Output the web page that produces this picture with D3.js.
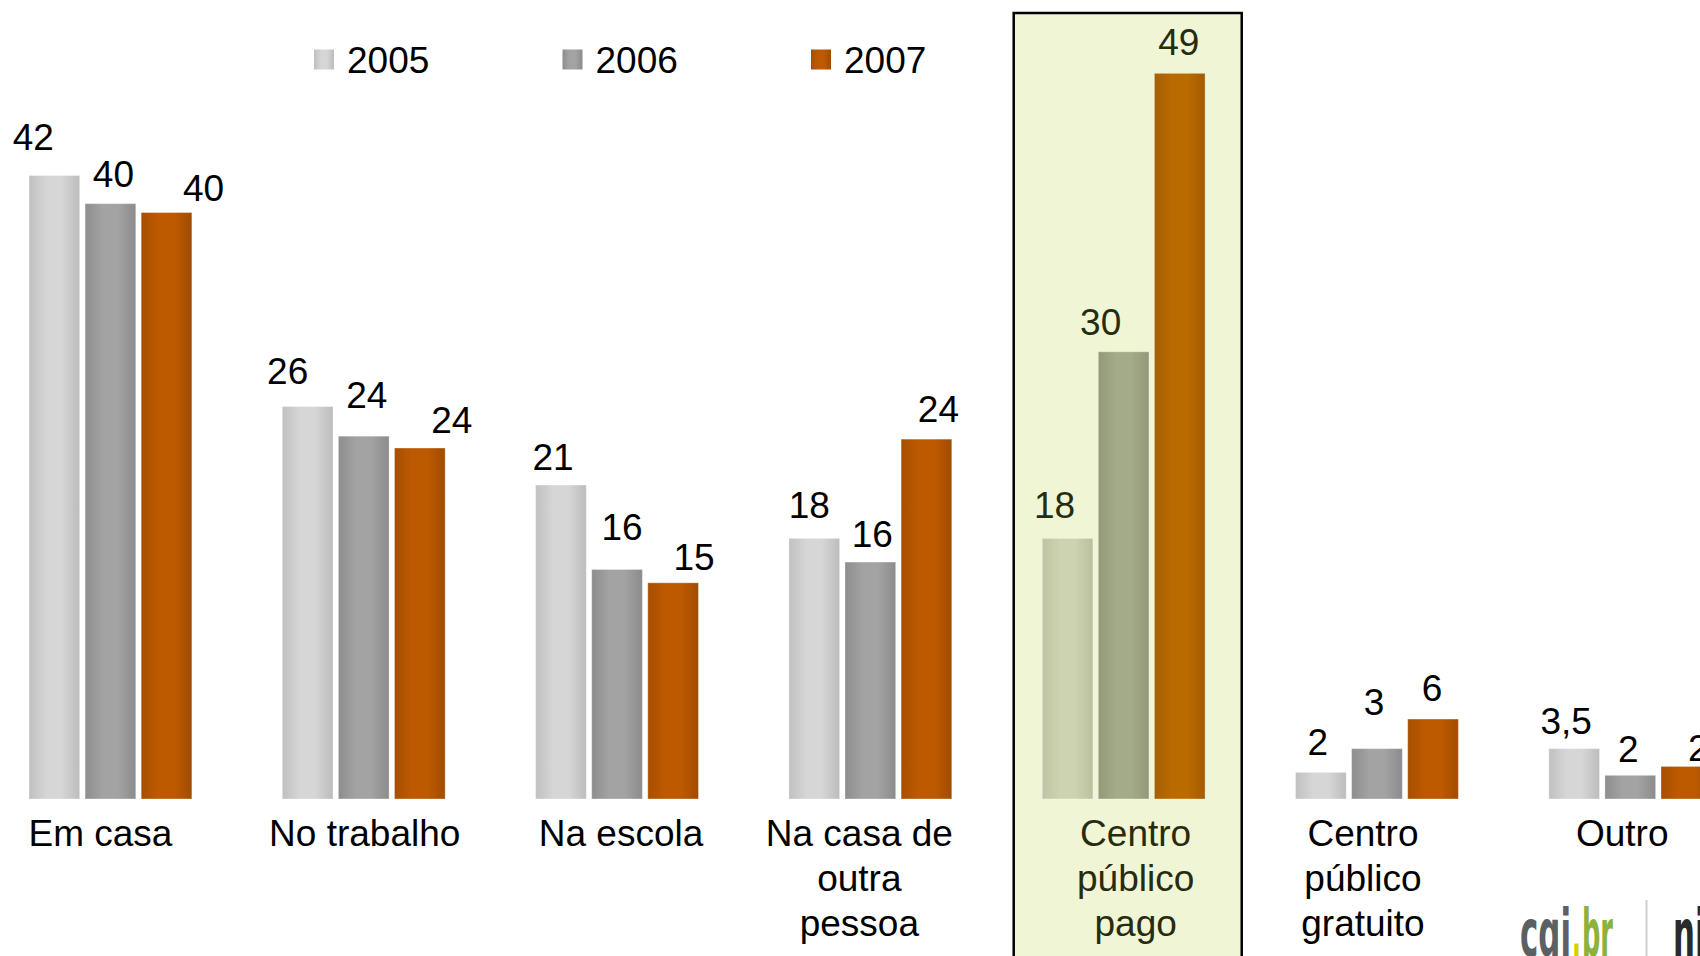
<!DOCTYPE html>
<html lang="pt">
<head>
  <meta charset="UTF-8">
  <title>Local de acesso</title>
  <style>
    html, body { margin: 0; padding: 0; background: #fff; overflow: hidden; }
    svg { display: block; font-family: "Liberation Sans", Arial, sans-serif; }
  </style>
</head>
<body>
  <div id="chart"></div>
  <script src="https://cdn.jsdelivr.net/npm/d3@7"></script>
  <script>
    const width = 1700
    const height = 956

    // data
    const categories = ['Em casa', 'No trabalho', 'Na escola', 'Na casa de\noutra\npessoa',
      'Centro\npúblico\npago', 'Centro\npúblico\ngratuito', 'Outro']
    const years = ['2005', '2006', '2007']
    const values2005 = [42.1, 26.5, 21.2, 17.6, 17.6, 1.8, 3.4]
    const values2006 = [40.2, 24.5, 15.5, 16.0, 30.2, 3.4, 1.6]
    const values2007 = [39.6, 23.7, 14.6, 24.3, 49.0, 5.4, 2.2]
    const labels2005 = ['42', '26', '21', '18', '18', '2', '3,5']
    const labels2006 = ['40', '24', '16', '16', '30', '3', '2']
    const labels2007 = ['40', '24', '15', '24', '49', '6', '2']
    const highlighted = 'Centro\npúblico\npago'

    // hand placed value labels (offset from bar centre, gap above bar top)
    const labelDx = [[-21, 3, 37], [-20, 3, 32], [-8, 5, 21], [-5, 2, 12],
      [-13, -23, -1], [-3, -3, -1], [-8, -2, 12]]
    const labelGap = [[25, 17, 12], [23, 28, 15], [15, 29, 13], [20, 15, 17],
      [20, 17, 18], [17, 34, 18], [15, 13, 5]]
    const catDx = [-10, 1, 4, -11, 12, -14, -8]

    const series = [values2005, values2006, values2007]
    const seriesLabels = [labels2005, labels2006, labels2007]

    const colors = {
      normal: [['#c0c0c0', '#d6d6d6', '#bcbcbc'], ['#8d8d8d', '#a3a3a3', '#8b8b8b'], ['#a74f00', '#bd5a00', '#a04c00']],
      hi: [['#bec5a2', '#cdd3b1', '#b9c09d'], ['#939977', '#a4ab89', '#92987a'], ['#a65f00', '#ba6b00', '#a25c00']]
    }

    const svg = d3.select('#chart').append('svg')
      .attr('width', width)
      .attr('height', height)

    const defs = svg.append('defs')
    Object.keys(colors).forEach(k => {
      colors[k].forEach((c, j) => {
        const gr = defs.append('linearGradient')
          .attr('id', `g-${k}-${j}`)
          .attr('x1', '0%').attr('x2', '100%')
        gr.append('stop').attr('offset', '0%').attr('stop-color', c[0])
        gr.append('stop').attr('offset', '35%').attr('stop-color', c[1])
        gr.append('stop').attr('offset', '65%').attr('stop-color', c[1])
        gr.append('stop').attr('offset', '100%').attr('stop-color', c[2])
      })
    })

    const x0 = d3.scaleBand()
      .domain(categories)
      .range([29, 1711.7])
      .paddingInner(0.357)
      .paddingOuter(0)

    const x1 = d3.scaleBand()
      .domain(years)
      .range([0, x0.bandwidth()])
      .paddingInner(0.096)

    const y = d3.scaleLinear()
      .domain([0, 50])
      .range([799, 799 - 50 * 14.81])

    // highlight box
    const hx = x0(highlighted)
    svg.append('rect')
      .attr('x', hx - 28.5)
      .attr('y', 13)
      .attr('width', 228)
      .attr('height', height)
      .attr('fill', '#f0f5d6')
      .attr('stroke', '#000')
      .attr('stroke-width', 2.5)

    // legend
    const legend = svg.append('g')
    years.forEach((yr, j) => {
      const lx = 314 + j * 248.5
      legend.append('rect')
        .attr('x', lx).attr('y', 49.5)
        .attr('width', 20).attr('height', 20)
        .attr('fill', `url(#g-normal-${j})`)
      legend.append('text')
        .attr('x', lx + 33).attr('y', 73)
        .attr('font-size', 37)
        .attr('fill', '#000')
        .text(yr)
    })

    // bars
    const groups = svg.selectAll('g.cat')
      .data(categories)
      .join('g')
      .attr('class', 'cat')
      .attr('transform', d => `translate(${x0(d)},0)`)

    groups.each(function (cat, i) {
      const g = d3.select(this)
      const hi = cat === highlighted
      const txt = hi ? '#262c10' : '#000'
      years.forEach((yr, j) => {
        const v = series[j][i]
        g.append('rect')
          .attr('x', x1(yr))
          .attr('y', y(v))
          .attr('width', x1.bandwidth())
          .attr('height', y(0) - y(v))
          .attr('fill', `url(#g-${hi ? 'hi' : 'normal'}-${j})`)
          .attr('stroke', '#fff')
          .attr('stroke-opacity', 0.35)
          .attr('stroke-width', 1)

        g.append('text')
          .attr('x', x1(yr) + x1.bandwidth() / 2 + labelDx[i][j])
          .attr('y', y(v) - labelGap[i][j])
          .attr('text-anchor', 'middle')
          .attr('font-size', 37)
          .attr('fill', txt)
          .text(seriesLabels[j][i])
      })

      const lines = cat.split('\n')
      const t = g.append('text')
        .attr('text-anchor', 'middle')
        .attr('font-size', 37)
        .attr('fill', txt)
      lines.forEach((ln, k) => {
        t.append('tspan')
          .attr('x', x0.bandwidth() / 2 + catDx[i])
          .attr('y', 846 + k * 45)
          .text(ln)
      })
    })

    // logo, bottom right (each piece its own condensed text)
    const logo = svg.append('g')
      .attr('font-family', '"DejaVu Sans", sans-serif')
      .attr('font-weight', 'bold')
      .attr('font-size', 66)
    const logoParts = [
      { t: 'cgi', x: 1520, w: 51, c: '#5b6062' },
      { t: '.', x: 1572, w: 9, c: '#cfd400' },
      { t: 'br', x: 1582, w: 31, c: '#8cb23c' }
    ]
    logoParts.forEach(p => {
      logo.append('text')
        .attr('x', p.x).attr('y', 956)
        .attr('textLength', p.w)
        .attr('lengthAdjust', 'spacingAndGlyphs')
        .attr('fill', p.c)
        .text(p.t)
    })

    logo.append('line')
      .attr('x1', 1646.5).attr('x2', 1646.5)
      .attr('y1', 900).attr('y2', 956)
      .attr('stroke', '#d0d0d0')
      .attr('stroke-width', 2)

    logo.append('text')
      .attr('x', 1673).attr('y', 956)
      .attr('textLength', 100)
      .attr('lengthAdjust', 'spacingAndGlyphs')
      .attr('fill', '#2a2a2a')
      .text('nic.br')
  </script>
</body>
</html>
